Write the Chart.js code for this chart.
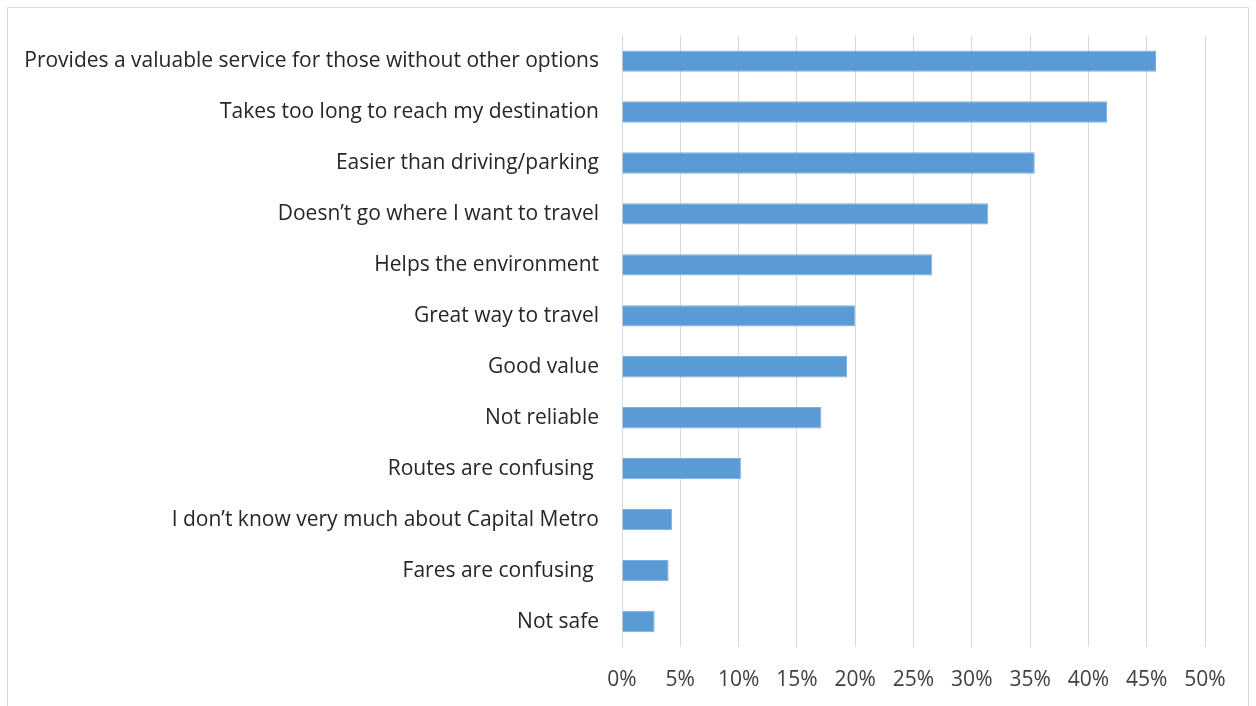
<!DOCTYPE html>
<html>
<head>
<meta charset="utf-8">
<script src="https://cdn.jsdelivr.net/npm/chart.js@4.4.1/dist/chart.umd.min.js"></script>
<style>
  html, body { margin: 0; padding: 0; background: #fff; }
  #wrap { position: relative; width: 1256px; height: 706px; }
  #frame {
    position: absolute; left: 7px; top: 7px; width: 1242px; height: 720px;
    border: 1px solid #d9d9d9; box-sizing: border-box;
  }
  canvas { position: absolute; left: 0; top: 0; }
</style>
</head>
<body>
<div id="wrap">
  <div id="frame"></div>
  <canvas id="barChart" width="1256" height="706"></canvas>
</div>
<script>
// Survey answers, top to bottom
const categories = [
  'Provides a valuable service for those without other options',
  'Takes too long to reach my destination',
  'Easier than driving/parking',
  'Doesn’t go where I want to travel',
  'Helps the environment',
  'Great way to travel',
  'Good value',
  'Not reliable',
  'Routes are confusing ',
  'I don’t know very much about Capital Metro',
  'Fares are confusing ',
  'Not safe'
];
const shares = [45.8, 41.6, 35.4, 31.4, 26.6, 20.0, 19.3, 17.1, 10.2, 4.3, 4.0, 2.8];
const tickValues = [0, 5, 10, 15, 20, 25, 30, 35, 40, 45, 50];

const labelFont = { family: 'Open Sans', size: 21 };

const ctx = document.getElementById('barChart').getContext('2d');
const barChart = new Chart(ctx, {
  type: 'bar',
  data: {
    labels: categories,
    datasets: [{
      data: shares,
      backgroundColor: '#5b9bd5',
      borderColor: '#7eb0de',
      borderWidth: 1,
      barPercentage: 0.42,
      categoryPercentage: 1
    }]
  },
  options: {
    indexAxis: 'y',
    responsive: false,
    animation: false,
    layout: {
      padding: { left: 0, top: 34, right: 51, bottom: 0 }
    },
    plugins: {
      legend: { display: false },
      tooltip: { enabled: false }
    },
    scales: {
      x: {
        min: 0,
        max: 50,
        afterBuildTicks: scale => {
          scale.ticks = tickValues.map(v => ({ value: v }));
        },
        afterFit: scale => { scale.height = 59; },
        grid: { color: '#d9d9d9', lineWidth: 1, drawTicks: false },
        border: { display: false },
        ticks: {
          padding: 20,
          color: '#404040',
          font: labelFont,
          callback: v => v + '%'
        }
      },
      y: {
        grid: { display: false, drawTicks: false },
        border: { display: false },
        afterFit: scale => { scale.width = 622; },
        ticks: {
          padding: 23,
          color: '#262626',
          font: labelFont
        }
      }
    }
  }
});
</script>
</body>
</html>
